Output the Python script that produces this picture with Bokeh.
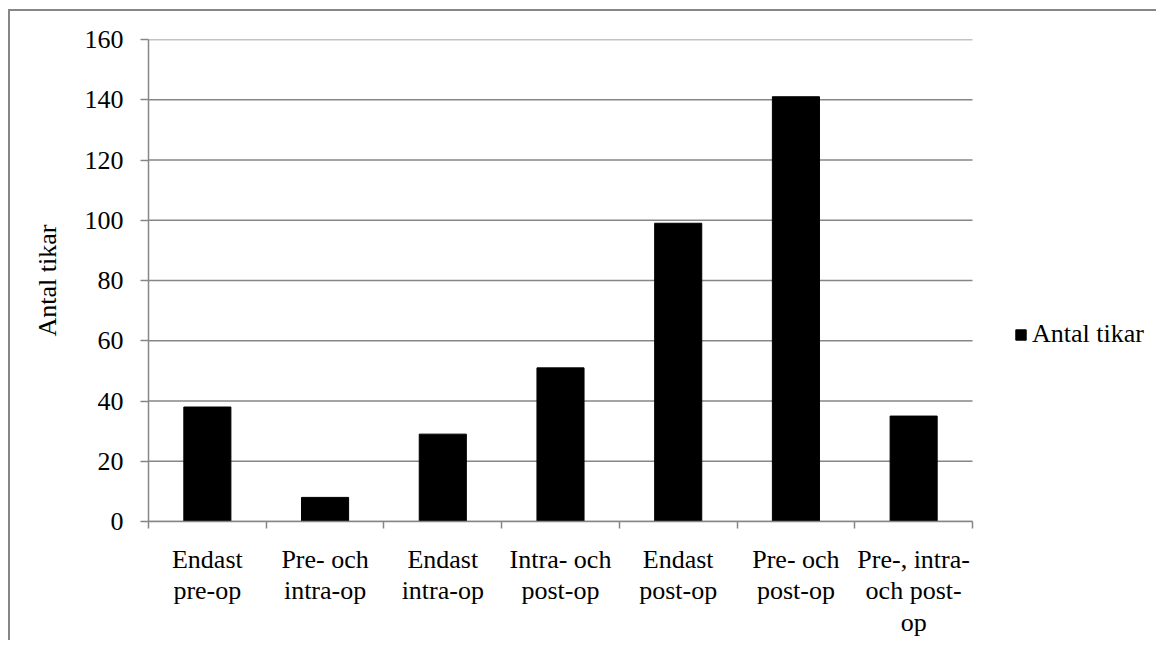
from bokeh.plotting import figure
from bokeh.models import (Range1d, LinearAxis, FixedTicker, Legend, LegendItem, ColumnDataSource)
from bokeh.embed import file_html
from bokeh.resources import INLINE

categories = ["Endast pre-op", "Pre- och intra-op", "Endast intra-op", "Intra- och post-op",
              "Endast post-op", "Pre- och post-op", "Pre-, intra- och post-op"]
tick_labels = ["Endast\npre-op", "Pre- och\nintra-op", "Endast\nintra-op", "Intra- och\npost-op",
               "Endast\npost-op", "Pre- och\npost-op", "Pre-, intra-\noch post-\nop"]
values = [38, 8, 29, 51, 99, 141, 35]
y_ticks = [0, 20, 40, 60, 80, 100, 120, 140, 160]
series_name = "Antal tikar"
y_title = "Antal tikar"

FONT = "Liberation Serif"
FS = "26px"
GRAY = "#868686"

n = len(categories)
centers = [i + 0.5 for i in range(n)]
edges = list(range(n + 1))

src = ColumnDataSource(dict(x=centers, val=values, cat=categories))
grid_src = ColumnDataSource(dict(x0=[0] * len(y_ticks), x1=[n] * len(y_ticks), y=y_ticks))

W, H = 1156, 640
LEFT, TOP, BOTTOM = 148, 39, 530
PLOT_W = 824          # width of the bar area in pixels
# frame runs to the right edge so that the legend can sit right of the bars;
# gridlines and the x axis are limited to the category span
x_end = n * (W - LEFT) / PLOT_W

p = figure(width=W, height=H,
           x_range=Range1d(0, x_end), y_range=Range1d(0, 160),
           output_backend="svg", toolbar_location=None,
           min_border_left=LEFT, min_border_right=0, min_border_top=TOP,
           min_border_bottom=H - BOTTOM)
p.outline_line_color = None
p.background_fill_color = None
p.border_fill_color = None
# chart-area frame (left and top edges visible, as in the reference crop)
p.styles = {
    "background": ("linear-gradient(#868686,#868686) 8px 9px / 2px 100% no-repeat, "
                   "linear-gradient(#868686,#868686) 8px 9px / 100% 2px no-repeat, white"),
}

# Y axis
ya = p.yaxis[0]
ya.ticker = FixedTicker(ticks=y_ticks)
ya.axis_line_color = GRAY
ya.axis_line_width = 1.5
ya.major_tick_line_color = GRAY
ya.major_tick_line_width = 1.5
ya.major_tick_out = 8
ya.major_tick_in = 0
ya.minor_tick_line_color = None
ya.major_label_text_font = FONT
ya.major_label_text_font_size = FS
ya.major_label_text_color = "black"
ya.major_label_standoff = 17
ya.axis_label = y_title
ya.axis_label_text_font = FONT
ya.axis_label_text_font_size = FS
ya.axis_label_text_font_style = "normal"
ya.axis_label_text_color = "black"
ya.axis_label_standoff = 20

p.xgrid.visible = False
p.ygrid.visible = False
# horizontal gridlines, only across the category span
p.segment(x0="x0", x1="x1", y0="y", y1="y", source=grid_src,
          line_color=GRAY, line_width=1.5, level="underlay")

# x axis: line + boundary ticks
xa = p.xaxis[0]
xa.ticker = FixedTicker(ticks=edges)
xa.bounds = (0, n)
xa.axis_line_color = GRAY
xa.axis_line_width = 1.5
xa.major_tick_line_color = GRAY
xa.major_tick_line_width = 1.5
xa.major_tick_out = 7
xa.major_tick_in = 0
xa.minor_tick_line_color = None
xa.major_label_overrides = {e: "" for e in edges}
xa.major_label_text_font_size = "1px"
xa.major_label_standoff = 0

# category labels
cat_axis = LinearAxis(ticker=FixedTicker(ticks=centers),
                      major_label_overrides={c: t for c, t in zip(centers, tick_labels)},
                      axis_line_color=None, major_tick_line_color=None,
                      minor_tick_line_color=None,
                      major_label_text_font=FONT, major_label_text_font_size=FS,
                      major_label_text_line_height=1.1,
                      major_label_text_color="black", major_label_standoff=10)
p.add_layout(cat_axis, "below")

r = p.vbar(x="x", top="val", width=0.4, source=src, fill_color="black", line_color="black")

legend = Legend(items=[LegendItem(label=series_name, renderers=[r])],
                location=(866, 172), border_line_color=None, background_fill_alpha=0,
                label_text_font=FONT, label_text_font_size=FS, label_text_color="black",
                glyph_width=13, glyph_height=13, label_standoff=5,
                padding=0, margin=0, spacing=0)
p.add_layout(legend)

open("out.html", "w").write(file_html(p, INLINE))
